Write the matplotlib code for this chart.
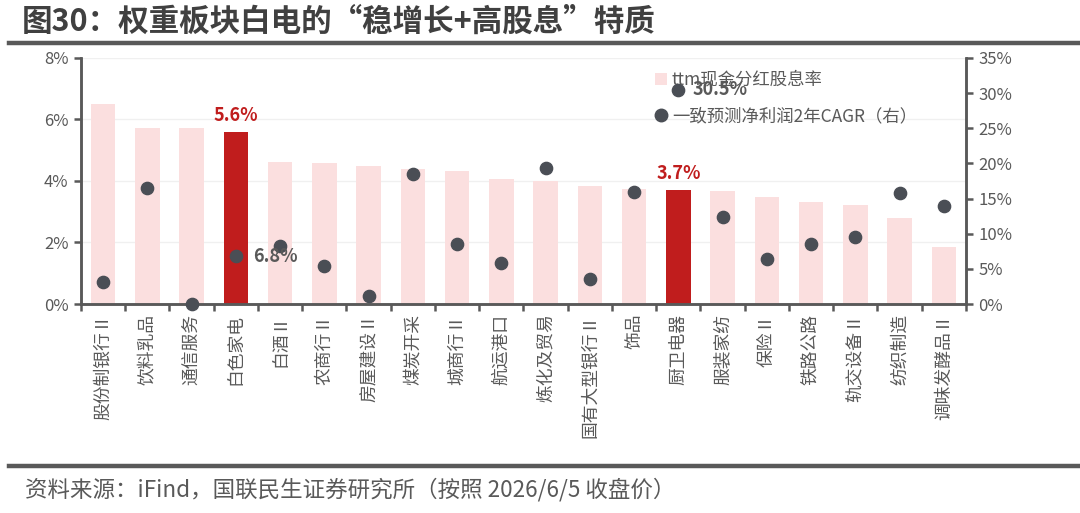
import numpy as np
import matplotlib.pyplot as plt
from matplotlib.lines import Line2D
from matplotlib.patches import Patch
from matplotlib.ticker import MultipleLocator, FuncFormatter

plt.rcParams['font.family'] = ['Noto Sans CJK SC', 'DejaVu Sans']

# --- data ---
sectors = ["股份制银行Ⅱ", "饮料乳品", "通信服务", "白色家电", "白酒Ⅱ", "农商行Ⅱ",
           "房屋建设Ⅱ", "煤炭开采", "城商行Ⅱ", "航运港口", "炼化及贸易", "国有大型银行Ⅱ",
           "饰品", "厨卫电器", "服装家纺", "保险Ⅱ", "铁路公路", "轨交设备Ⅱ",
           "纺织制造", "调味发酵品Ⅱ"]
dividend_yield = [6.50, 5.72, 5.71, 5.6, 4.61, 4.60, 4.49, 4.39, 4.32, 4.05,
                  3.99, 3.85, 3.75, 3.7, 3.69, 3.48, 3.33, 3.23, 2.79, 1.85]
profit_cagr = [3.1, 16.5, 0.0, 6.8, 8.2, 5.45, 1.1, 18.5, 8.6, 5.9,
               19.4, 3.5, 15.9, 30.5, 12.4, 6.35, 8.55, 9.55, 15.8, 14.0]
highlight = ["白色家电", "厨卫电器"]

PINK = "#fbdfdf"
RED = "#c01d1d"
DOT = "#4a4e55"
GRAY = "#595959"

fig = plt.figure(figsize=(10.8, 5.13), dpi=100)
ax = fig.add_axes([0.075, 0.4074, 0.8194, 0.4796])
ax2 = ax.twinx()

x = np.arange(len(sectors))
colors = [RED if s in highlight else PINK for s in sectors]
ax.bar(x, dividend_yield, width=0.55, color=colors, zorder=2)
ax2.scatter(x, profit_cagr, s=78, color=DOT, zorder=3, clip_on=False)

# --- axes ---
ax.set_xlim(-0.5, len(sectors) - 0.5)
ax.set_ylim(0, 8)
ax2.set_ylim(0, 35)
ax.yaxis.set_major_locator(MultipleLocator(2))
ax2.yaxis.set_major_locator(MultipleLocator(5))
pct = FuncFormatter(lambda v, p: f"{v:.0f}%")
ax.yaxis.set_major_formatter(pct)
ax2.yaxis.set_major_formatter(pct)
ax.grid(axis='y', color="#f0f0f0", linewidth=1, zorder=0)
ax.set_axisbelow(True)

ax.set_xticks(np.arange(-0.5, len(sectors), 1))
ax.set_xticklabels([])
ax.set_xticks(x, minor=True)
ax.set_xticklabels(sectors, minor=True, rotation=90, fontsize=12.8, color=GRAY)
ax.tick_params(axis='x', which='minor', length=0, pad=7)
ax.tick_params(axis='x', which='major', length=5, width=1.8, color=GRAY, direction='out')
ax.tick_params(axis='y', length=5, width=1.8, color=GRAY, labelsize=12, labelcolor=GRAY, pad=4)
ax2.tick_params(axis='y', length=5, width=1.8, color=GRAY, labelsize=12, labelcolor=GRAY, pad=4)

for a in (ax, ax2):
    a.spines['top'].set_visible(False)
    for side in ('left', 'right', 'bottom'):
        a.spines[side].set_color(GRAY)
        a.spines[side].set_linewidth(1.8)

# --- annotations for highlighted sectors ---
i = sectors.index("白色家电")
ax.text(x[i], dividend_yield[i] + 0.22, f"{dividend_yield[i]:.1f}%", color=RED,
        fontsize=13, fontweight='bold', ha='center', va='bottom')
ax2.text(x[i] + 0.38, profit_cagr[i], f"{profit_cagr[i]:.1f}%", color=GRAY,
         fontsize=13, fontweight='bold', ha='left', va='center')
j = sectors.index("厨卫电器")
ax.text(x[j], dividend_yield[j] + 0.22, f"{dividend_yield[j]:.1f}%", color=RED,
        fontsize=13, fontweight='bold', ha='center', va='bottom')
ax2.text(x[j] + 0.32, profit_cagr[j], f"{profit_cagr[j]:.1f}%", color=GRAY,
         fontsize=13, fontweight='bold', ha='left', va='center', zorder=4)

# --- legend ---
handles = [Patch(facecolor=PINK, edgecolor='none', label="ttm现金分红股息率"),
           Line2D([], [], marker='o', linestyle='none', markersize=9,
                  color=DOT, label="一致预测净利润2年CAGR（右）")]
leg = ax.legend(handles=handles, loc='upper left', bbox_to_anchor=(0.598, 0.879),
                bbox_transform=fig.transFigure, frameon=False, fontsize=12.5,
                handlelength=0.7, handleheight=0.7, handletextpad=0.3,
                labelspacing=1.05, borderpad=0)
for t in leg.get_texts():
    t.set_color(GRAY)

# --- title, rules and source ---
fig.text(0.02, 0.957, "图30：权重板块白电的“稳增长+高股息”特质", fontsize=22,
         fontweight='bold', color="#404040", ha='left', va='center')
fig.add_artist(Line2D([0.008, 1.0], [0.916, 0.916], color=GRAY, linewidth=3.2))
fig.add_artist(Line2D([0.008, 1.0], [0.092, 0.092], color=GRAY, linewidth=3.2))
fig.text(0.023, 0.045, "资料来源：iFind，国联民生证券研究所（按照 2026/6/5 收盘价）",
         fontsize=16.2, color=GRAY, ha='left', va='center')

fig.savefig("out.png", dpi=100)
